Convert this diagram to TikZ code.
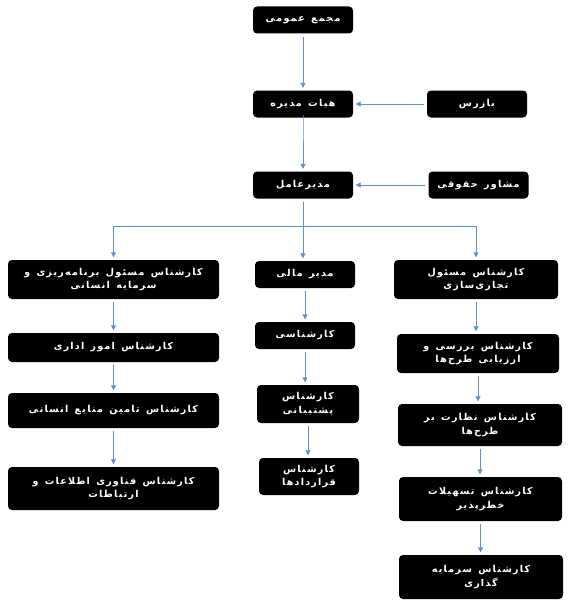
\documentclass[tikz,border=0pt]{standalone}
\usepackage{fontspec}
\usetikzlibrary{arrows.meta}
\newfontfamily\arabicfont[Script=Arabic,WordSpace=1.4,LetterSpace=13]{DejaVu Sans Bold}
\TeXXeTstate=1
\newcommand{\artxt}[1]{\beginR #1\endR}
\definecolor{conn}{RGB}{95,145,205}
\tikzset{
  bx/.style={rounded corners=4pt, fill=black, text=white, inner sep=0pt,
    align=center, font=\arabicfont\fontsize{9.5}{13.5}\selectfont},
  arr/.style={draw=conn, line width=0.9pt, -{Triangle[width=5pt,length=5pt]},
    shorten <=3pt, shorten >=2.5pt},
  ln/.style={draw=conn, line width=0.9pt}
}
\begin{document}
\begin{tikzpicture}[x=1pt,y=-1pt]
\fill[white] (0,0) rectangle (569,610);
\useasboundingbox (0,0) rectangle (569,610);
% top
\node[bx, minimum width=100pt, minimum height=27pt] (gm) at (303,20) {\artxt{مجمع عمومی}};
\node[bx, minimum width=100pt, minimum height=27pt] (board) at (303,104) {\artxt{هیات مدیره}};
\node[bx, minimum width=100pt, minimum height=27pt] (insp) at (477,104) {\artxt{بازرس}};
\node[bx, minimum width=100pt, minimum height=27pt] (ceo) at (303,185) {\artxt{مدیرعامل}};
\node[bx, minimum width=100pt, minimum height=27pt] (legal) at (478.5,185) {\artxt{مشاور حقوقی}};
% left column
\node[bx, minimum width=211pt, minimum height=39pt] (l1) at (113.5,279.5) {\artxt{کارشناس مسئول برنامه‌ریزی و}\\\artxt{سرمایه انسانی}};
\node[bx, minimum width=211pt, minimum height=29pt] (l2) at (113.5,347.5) {\artxt{کارشناس امور اداری}};
\node[bx, minimum width=211pt, minimum height=35pt] (l3) at (113.5,410.5) {\artxt{کارشناس تامین منابع انسانی}};
\node[bx, minimum width=211pt, minimum height=43pt] (l4) at (113.5,488.5) {\artxt{کارشناس فناوری اطلاعات و}\\\artxt{ارتباطات}};
% middle column
\node[bx, minimum width=100pt, minimum height=27pt] (m1) at (305,274.5) {\artxt{مدیر مالی}};
\node[bx, minimum width=100pt, minimum height=27pt] (m2) at (305,335.5) {\artxt{کارشناسی}};
\node[bx, minimum width=102pt, minimum height=38pt] (m3) at (308,404) {\artxt{کارشناس}\\\artxt{پشتیبانی}};
\node[bx, minimum width=100pt, minimum height=37pt] (m4) at (309,476.5) {\artxt{کارشناس}\\\artxt{قراردادها}};
% right column
\node[bx, minimum width=164pt, minimum height=39pt] (r1) at (476,279.5) {\artxt{کارشناس مسئول}\\\artxt{تجاری‌سازی}};
\node[bx, minimum width=162pt, minimum height=39pt] (r2) at (478,353.5) {\artxt{کارشناس بررسی و}\\\artxt{ارزیابی طرح‌ها}};
\node[bx, minimum width=164pt, minimum height=42pt] (r3) at (480,425) {\artxt{کارشناس نظارت بر}\\\artxt{طرح‌ها}};
\node[bx, minimum width=163pt, minimum height=44pt] (r4) at (480.5,499) {\artxt{کارشناس تسهیلات}\\\artxt{خطرپذیر}};
\node[bx, minimum width=164pt, minimum height=44pt] (r5) at (481,577) {\artxt{کارشناس سرمایه}\\\artxt{گذاری}};
% connectors
\coordinate (bar) at (0,226);
\draw[arr] (gm.south) -- (board.north);
\draw[arr] (insp.west) -- (board.east);
\draw[arr] (board.south) -- (ceo.south |- board.south) -- (ceo.north);
\draw[arr] (legal.west) -- (legal.west -| ceo.east);
\draw[arr] (ceo.south) -- (ceo.south |- m1.north);
\draw[ln] (l1.north |- bar) -- (r1.north |- bar);
\draw[arr, shorten <=0pt] (l1.north |- bar) -- (l1.north);
\draw[arr, shorten <=0pt] (r1.north |- bar) -- (r1.north);
\draw[arr] (l1.south) -- (l1.south |- l2.north);
\draw[arr] (l2.south) -- (l2.south |- l3.north);
\draw[arr] (l3.south) -- (l3.south |- l4.north);
\draw[arr] (m2.north |- m1.south) -- (m2.north);
\draw[arr] (m2.south) -- (m2.south |- m3.north);
\draw[arr] (m3.south) -- (m3.south |- m4.north);
\draw[arr] (r1.south) -- (r1.south |- r2.north);
\draw[arr] (r2.south) -- (r2.south |- r3.north);
\draw[arr] (r3.south) -- (r3.south |- r4.north);
\draw[arr] (r4.south) -- (r4.south |- r5.north);
\end{tikzpicture}
\end{document}
